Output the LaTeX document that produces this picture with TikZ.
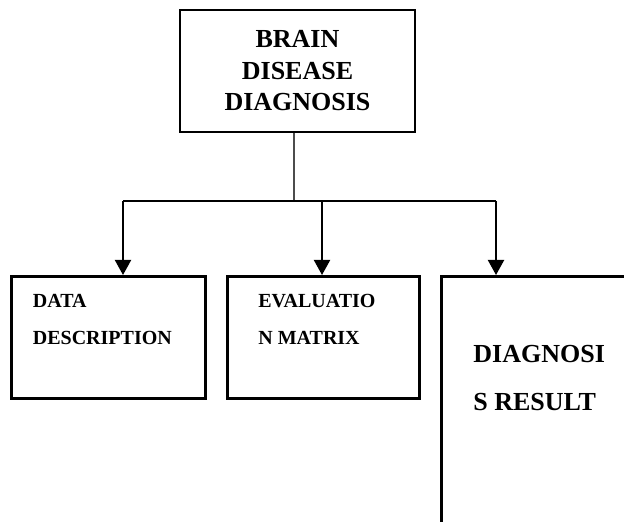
\documentclass[tikz,border=0pt]{standalone}
\usepackage{fontspec}
\setmainfont{Liberation Serif}
\usetikzlibrary{arrows.meta}

\begin{document}
\begin{tikzpicture}[x=0.5pt,y=-0.5pt,
    box/.style={draw, line width=1.3pt, inner sep=0pt},
    lbl/.style={anchor=base west, inner sep=0pt, font=\bfseries\fontsize{10}{12}\selectfont},
    biglbl/.style={anchor=base west, inner sep=0pt, font=\bfseries\fontsize{13}{15}\selectfont},
    arr/.style={line width=1pt, -{Triangle[length=7.5pt,width=8pt]}}]
    \clip (0,0) rectangle (624,522);

    % top box
    \node[box, minimum width=117.5pt, minimum height=61pt, align=center,
          font=\bfseries\fontsize{13}{15.75}\selectfont] (brain) at (297.5,71)
          {BRAIN\\DISEASE\\DIAGNOSIS};

    % lower boxes
    \node[box, anchor=north west, minimum width=97pt, minimum height=61pt] (data) at (10,275) {};
    \node[box, anchor=north west, minimum width=96pt, minimum height=61pt] (eval) at (226,275) {};
    \node[box, anchor=north west, minimum width=150pt, minimum height=150pt] (result) at (440,275) {};

    \node[lbl] (dataA) at (32.5,308) {DATA};
    \node[lbl] (dataB) at (32.5,345) {DESCRIPTION};
    \node[lbl] (evalA) at (258,308) {EVALUATIO};
    \node[lbl] (evalB) at (258,345) {N MATRIX};
    \node[biglbl] (resA) at (473,363) {DIAGNOSI};
    \node[biglbl] (resB) at (473,410) {S RESULT};

    % connectors
    \coordinate (hub) at (294,201);
    \coordinate (hubL) at (123,201);
    \coordinate (hubM) at (322,201);
    \coordinate (hubR) at (496,201);
    \draw[gray!60!black, line width=0.6pt] (brain.south -| hub) -- (hub);
    \draw[line width=0.8pt] (hubL) -- (hubR);
    \draw[arr] (hubL) -- (hubL |- data.north);
    \draw[arr] (hubM) -- (hubM |- eval.north);
    \draw[arr] (hubR) -- (hubR |- result.north);
\end{tikzpicture}
\end{document}
